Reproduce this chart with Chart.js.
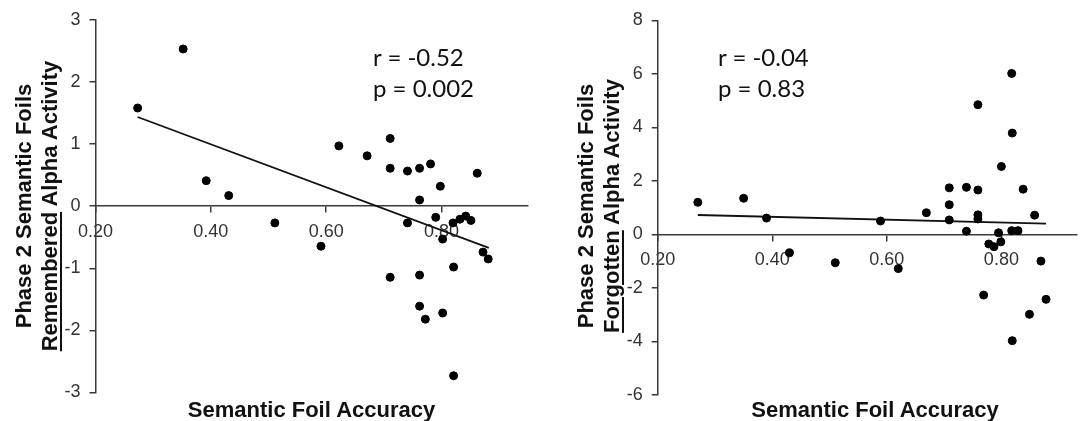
<!DOCTYPE html>
<html>
<head>
<meta charset="utf-8">
<script src="https://cdn.jsdelivr.net/npm/chart.js@4"></script>
<style>
  body { margin: 0; background: #fff; }
  #page { position: relative; width: 1082px; height: 421px; overflow: hidden; background: #fff; }
  .panel { position: absolute; top: 0; width: 541px; height: 421px; }
  .ytitle {
    position: absolute; width: 420px; text-align: center;
    font: bold 22px "Liberation Sans", Arial, sans-serif; line-height: 26px; color: #111;
    transform: translate(-50%, -50%) rotate(-90deg);
    white-space: nowrap;
  }
  .ytitle u { text-decoration-thickness: 1.5px; text-underline-offset: 3px; }
  .xtitle {
    position: absolute; top: 397px; width: 400px; text-align: center;
    font: bold 22px "Liberation Sans", Arial, sans-serif; line-height: 26px; color: #111;
    transform: translateX(-50%); white-space: nowrap;
  }
  .stats {
    position: absolute; top: 42px;
    font: 24px Lato, "Open Sans", sans-serif; line-height: 30.5px; color: #111;
    white-space: nowrap;
  }
</style>
</head>
<body>
<div id="page">
  <div class="panel" style="left:0"><canvas id="chartLeft"></canvas></div>
  <div class="panel" style="left:541px"><canvas id="chartRight"></canvas></div>

  <div class="ytitle" style="left:37px; top:206px">Phase 2 Semantic Foils<br><u>Remembered</u> Alpha Activity</div>
  <div class="ytitle" style="left:599px; top:206px">Phase 2 Semantic Foils<br><u>Forgotten</u> Alpha Activity</div>

  <div class="xtitle" style="left:311.5px">Semantic Foil Accuracy</div>
  <div class="xtitle" style="left:875px">Semantic Foil Accuracy</div>

  <div class="stats" style="left:373px">r = -0.52<br>p = 0.002</div>
  <div class="stats" style="left:718px">r = -0.04<br>p = 0.83</div>
</div>

<script>
// Remembered panel (left)
const rememberedAccuracy = [0.273, 0.352, 0.392, 0.431, 0.511, 0.591, 0.622, 0.671, 0.711, 0.711, 0.711,
  0.741, 0.741, 0.762, 0.762, 0.762, 0.762, 0.772, 0.781, 0.798, 0.790, 0.802, 0.802, 0.820, 0.821, 0.821,
  0.832, 0.842, 0.851, 0.862, 0.872, 0.881];
const rememberedAlpha = [1.58, 2.53, 0.41, 0.17, -0.27, -0.645, 0.97, 0.81, 1.09, 0.61, -1.145,
  0.565, -0.27, 0.61, 0.10, -1.11, -1.61, -1.82, 0.68, 0.32, -0.18, -0.53, -1.72, -0.27, -0.98, -2.73,
  -0.21, -0.16, -0.23, 0.53, -0.74, -0.85];
const rememberedTrendX = [0.273, 0.882];
const rememberedTrendY = [1.435, -0.672];

// Forgotten panel (right)
const forgottenAccuracy = [0.270, 0.350, 0.390, 0.430, 0.510, 0.589, 0.620, 0.669, 0.709, 0.709, 0.709,
  0.739, 0.739, 0.759, 0.759, 0.759, 0.759, 0.769, 0.778, 0.787, 0.795, 0.799, 0.800, 0.818, 0.819, 0.818,
  0.819, 0.829, 0.838, 0.849, 0.858, 0.869, 0.878];
const forgottenAlpha = [1.20, 1.35, 0.61, -0.69, -1.06, 0.50, -1.28, 0.81, 1.74, 1.11, 0.54,
  1.76, 0.12, 1.66, 0.73, 0.575, 4.85, -2.27, -0.36, -0.46, 0.06, -0.28, 2.54, 6.02, 3.79, 0.14,
  -3.975, 0.14, 1.69, -2.99, 0.72, -1.0, -2.43];
const forgottenTrendX = [0.270, 0.878];
const forgottenTrendY = [0.725, 0.40];

const xTicks = [0.2, 0.4, 0.6, 0.8];

Chart.defaults.font.family = '"Liberation Sans", Arial, sans-serif';
Chart.defaults.color = '#333';

function toPoints(xs, ys) {
  return xs.map((x, i) => ({ x: x, y: ys[i] }));
}

function makeChart(canvasId, xs, ys, trendX, trendY, opts) {
  const axisColor = '#3a3a3a';
  new Chart(document.getElementById(canvasId), {
    type: 'scatter',
    data: {
      datasets: [
        {
          data: toPoints(xs, ys),
          backgroundColor: '#000',
          borderColor: '#000',
          pointRadius: 4,
          pointHoverRadius: 4
        },
        {
          type: 'line',
          data: toPoints(trendX, trendY),
          borderColor: '#111',
          borderWidth: 1.8,
          pointRadius: 0,
          fill: false
        }
      ]
    },
    options: {
      responsive: true,
      maintainAspectRatio: false,
      animation: false,
      layout: { padding: opts.padding },
      plugins: { legend: { display: false }, tooltip: { enabled: false } },
      scales: {
        x: {
          type: 'linear',
          position: { y: 0 },
          min: 0.2,
          max: opts.xMax,
          afterFit: s => { s.height = 0; },
          afterBuildTicks: s => { s.ticks = xTicks.map(v => ({ value: v })); },
          ticks: {
            callback: v => Number(v).toFixed(2),
            font: { size: 18 },
            color: '#333',
            padding: 9,
            maxRotation: 0,
            autoSkip: false
          },
          grid: { display: true, drawOnChartArea: false, drawTicks: true, tickLength: 6, color: axisColor, lineWidth: 1.5 },
          border: { display: true, color: axisColor, width: 1.5 }
        },
        y: {
          min: opts.yMin,
          max: opts.yMax,
          afterFit: s => { s.width = 40; },
          ticks: {
            stepSize: opts.yStep,
            font: { size: 18 },
            color: '#333',
            padding: 9
          },
          grid: { display: true, drawOnChartArea: false, drawTicks: true, tickLength: 6, color: axisColor, lineWidth: 1.5 },
          border: { display: true, color: axisColor, width: 1.5 }
        }
      }
    }
  });
}

makeChart('chartLeft', rememberedAccuracy, rememberedAlpha, rememberedTrendX, rememberedTrendY, {
  xMax: 0.95, yMin: -3, yMax: 3, yStep: 1,
  padding: { left: 55.5, right: 13, top: 19.5, bottom: 28.5 }
});

makeChart('chartRight', forgottenAccuracy, forgottenAlpha, forgottenTrendX, forgottenTrendY, {
  xMax: 0.932, yMin: -6, yMax: 8, yStep: 2,
  padding: { left: 76.7, right: 0, top: 20.5, bottom: 26.2 }
});
</script>
</body>
</html>
